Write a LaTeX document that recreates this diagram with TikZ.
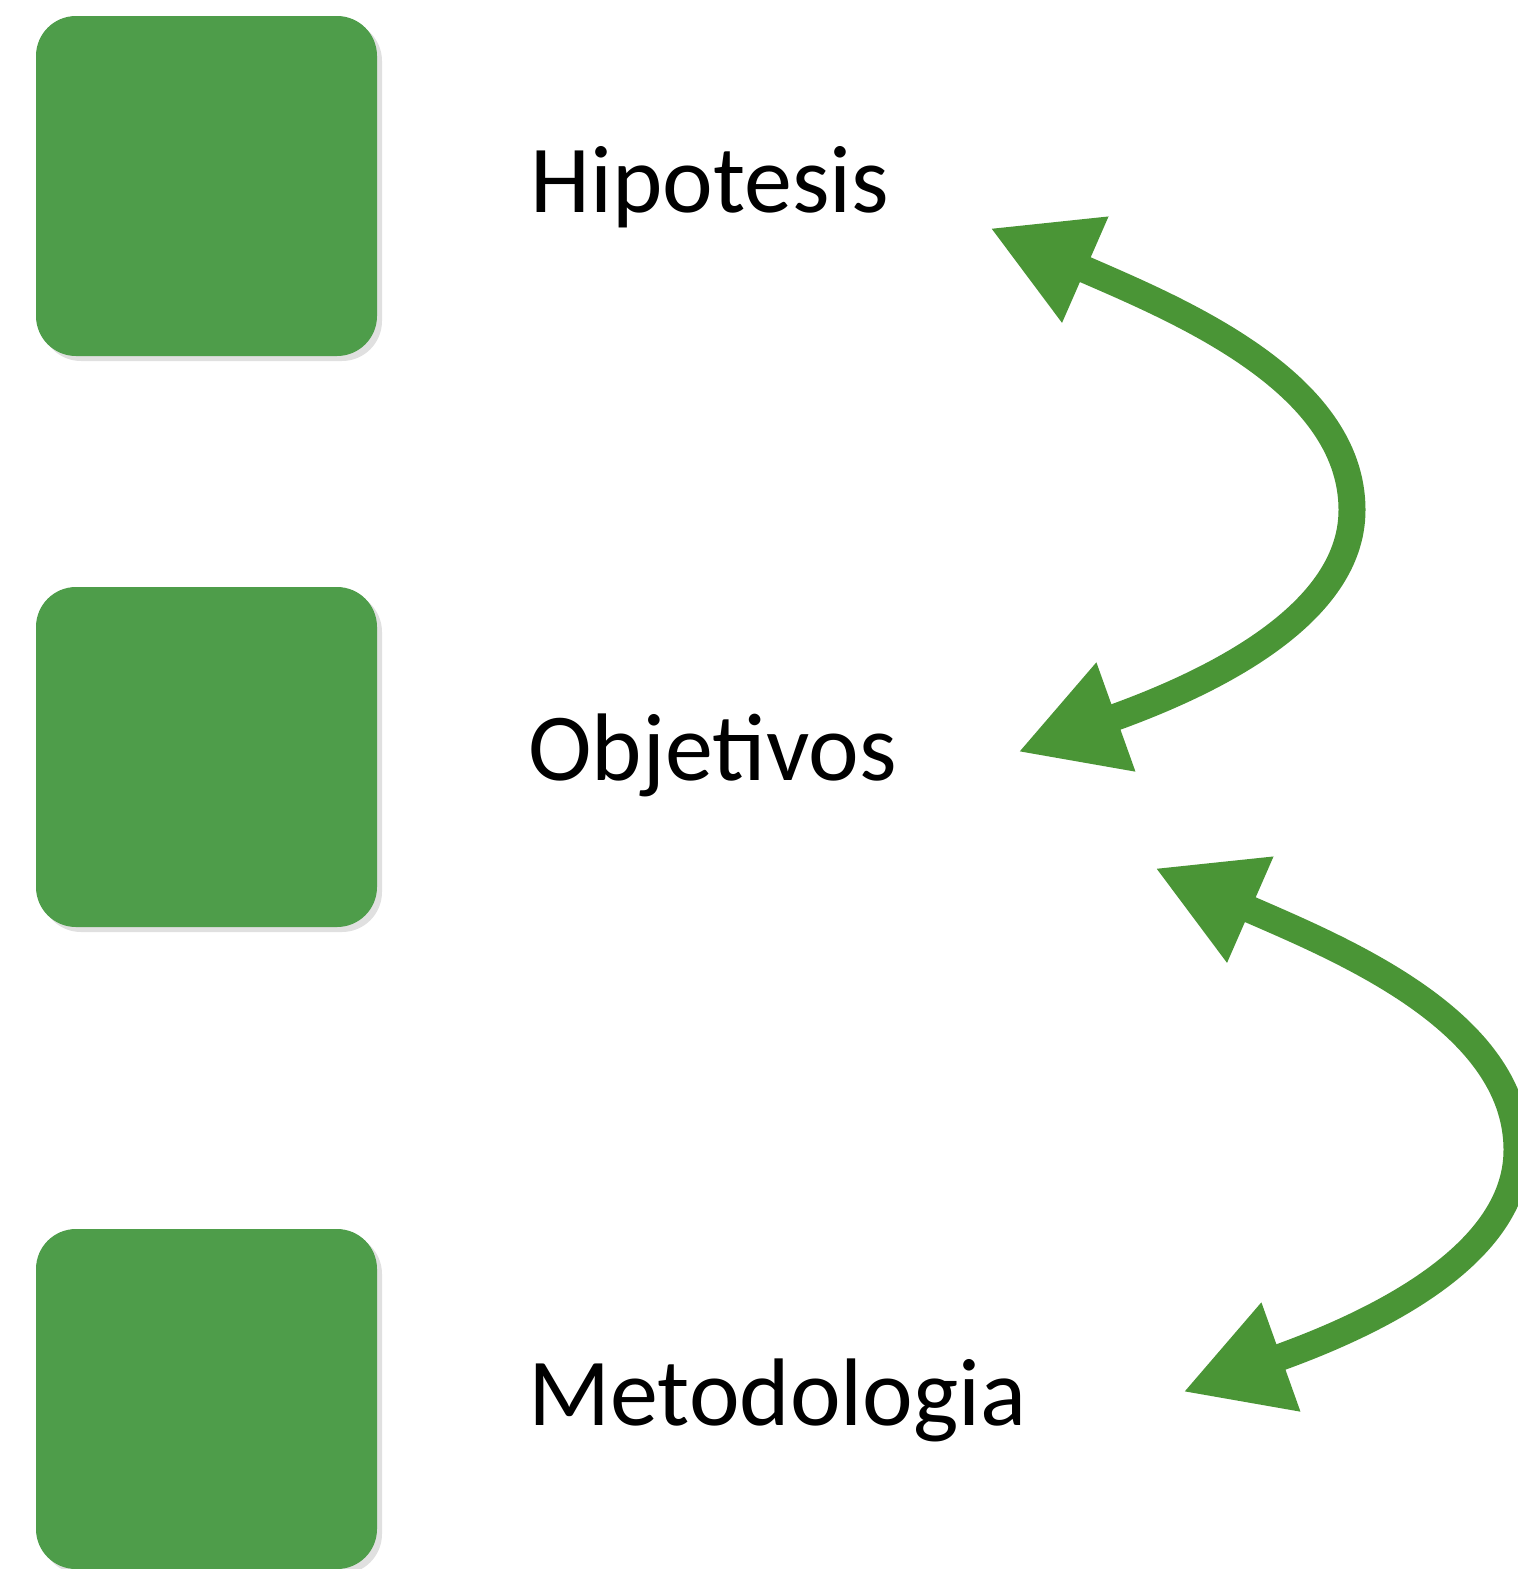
\documentclass[tikz,border=0pt]{standalone}
\usepackage{fontspec}
\setmainfont{Carlito}
\usetikzlibrary{arrows.meta,shadows}
\definecolor{boxgreen}{RGB}{78,157,74}
\definecolor{arrowgreen}{RGB}{74,149,54}
\tikzset{
  greenbox/.style={draw=none, fill=boxgreen, rounded corners=20pt,
    minimum width=170.5pt, minimum height=170pt, inner sep=0pt,
    drop shadow={shadow xshift=2.5pt, shadow yshift=-2.5pt, opacity=0.12, fill=black}},
  label/.style={anchor=base west, inner sep=0pt, font=\fontsize{48}{58}\selectfont, text=black},
  bigarrow/.style={draw=arrowgreen, line width=13.5pt,
    {Triangle[length=52pt,width=54pt]}-{Triangle[length=52pt,width=54pt]}}
}
\begin{document}
\begin{tikzpicture}[x=0.5pt,y=-0.5pt]
\clip (0,0) rectangle (1518,1569);
\fill[white] (0,0) rectangle (1518,1569);
\node[greenbox] (b1) at (206.5,186) {};
\node[greenbox] (b2) at (206.5,757) {};
\node[greenbox] (b3) at (206.5,1399) {};
\node[label] (t1) at (530,212) {Hipotesis};
\node[label] (t2) at (528,780) {Objetivos};
\node[label] (t3) at (528,1425) {Metodologia};
\coordinate (a1s) at (990,228);
\coordinate (a1m) at (1352,510);
\coordinate (a1e) at (1018,752);
\coordinate (a2s) at (1155,868);
\coordinate (a2m) at (1517,1150);
\coordinate (a2e) at (1183,1392);
\draw[bigarrow] (a1s) .. controls +(183,80) and +(0,-130) .. (a1m)
  .. controls +(0,110) and +(179,-64) .. (a1e);
\draw[bigarrow] (a2s) .. controls +(183,80) and +(0,-130) .. (a2m)
  .. controls +(0,110) and +(179,-64) .. (a2e);
\end{tikzpicture}
\end{document}
